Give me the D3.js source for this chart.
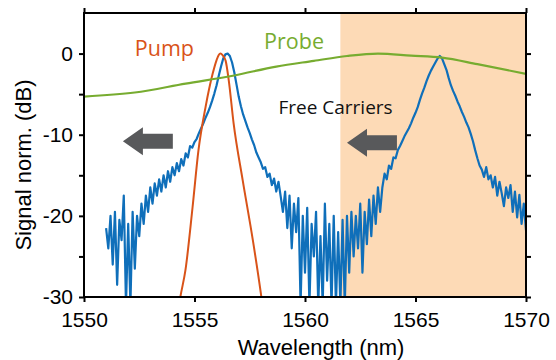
<!DOCTYPE html>
<html>
<head>
<meta charset="utf-8">
<script src="https://cdn.jsdelivr.net/npm/d3@7"></script>
<style>
    body { margin: 0; background: #fff; }
    svg { display: block; }
</style>
</head>
<body>
<div id="chart"></div>
<script>
// ---- Data ----
const xTicks = [1550, 1555, 1560, 1565, 1570];
const yTicks = [-30, -25, -20, -15, -10, -5, 0];

// measured trace (blue), sampled every 0.1 nm from 1551.0 nm
const traceStart = 1551.0;
const traceStep = 0.1;
const traceDb = [
    -21.5, -24.0, -20.0, -26.0, -19.5, -28.5, -20.5, -23.0, -17.5, -31,
    -21, -31, -19.5, -26.5, -20, -22.5, -18.5, -21, -17.5, -19.5,
    -16.5, -18.5, -16, -17.5, -15.5, -17, -15, -16.5, -14.5, -15.8,
    -14, -15, -13.5, -14.5, -13, -13.8, -12.3, -12.8, -11.4, -11.6,
    -10.9, -10.5, -9.8, -9.2, -8.6, -7.9, -7.3, -6.6, -5.8, -4.9,
    -3.9, -2.7, -1.6, -0.6, -0.1, 0, -0.3, -1.1, -2.3, -3.8,
    -5.3, -6.5, -7.5, -8.3, -9.1, -9.8, -10.6, -11.3, -12.2, -12.8,
    -13.4, -14.2, -14.0, -15.2, -14.8, -16.2, -15.4, -17.0, -15.8, -17.6,
    -19.5, -17.0, -21.5, -17.5, -24.0, -18.5, -22.0, -17.8, -31, -20.0,
    -27.0, -19.0, -31, -21.0, -25.0, -19.5, -31, -22.5, -31, -18.5,
    -28, -21, -31, -20.0, -31, -22, -31, -20.5, -31, -20,
    -27, -19.5, -25, -20, -24, -18.5, -27, -19.5, -23.5, -18.0,
    -22.5, -17.5, -21, -16.5, -19.5, -16.5, -14.8, -15.5, -13.8, -14.2,
    -12.8, -12.9, -11.9, -11.4, -10.8, -10.2, -9.7, -9.2, -8.6, -7.9,
    -7.3, -6.6, -5.7, -4.9, -4.2, -3.4, -2.7, -2.1, -1.6, -1.1,
    -0.6, -0.3, -0.6, -1.3, -2.0, -3.0, -3.9, -4.6, -5.2, -5.9,
    -6.5, -7.2, -7.8, -8.5, -9.1, -9.9, -10.8, -11.9, -12.9, -13.8,
    -14.3, -15.2, -14.0, -15.5, -15.0, -16.5, -15.2, -17.5, -15.8, -17.2,
    -18.8, -16.5, -17.8, -16.2, -19.5, -17.0, -20.2, -17.4, -21.0, -18.5,
    -21.8
];

// pump spectrum (red)
const pumpWl = [1554.30, 1554.36, 1554.59, 1554.91, 1555.18, 1555.50, 1555.82, 1556.00, 1556.09, 1556.18,
                1556.27, 1556.41, 1556.55, 1556.77, 1557.18, 1557.64, 1558.00, 1558.05];
const pumpDb = [-31, -30, -26.7, -19.0, -11.9, -6.6, -2.5, -0.8, -0.2, 0,
                -0.2, -0.9, -3.3, -8.6, -15.6, -23.0, -29.5, -30.5];

// probe spectrum (green)
const probeWl = [1550, 1552.3, 1554.6, 1556.8, 1558.7, 1560.4, 1561.9, 1563.3, 1564.8, 1566.2, 1567.8, 1570];
const probeDb = [-5.3, -4.8, -3.7, -2.7, -1.6, -0.9, -0.3, 0, -0.25, -0.5, -1.3, -2.5];

// free-carrier band
const bandStart = 1561.6;
const bandEnd = 1570;

// annotations (data units)
const labels = [
    { text: "Pump", wl: 1552.3, db: -0.25, color: "#D95319", size: 21.5 },
    { text: "Probe", wl: 1558.15, db: 0.6, color: "#77AC30", size: 21.5 },
    { text: "Free Carriers", wl: 1558.8, db: -7.4, color: "#111", size: 19 }
];
const arrows = [
    { tip: 1551.76, tail: 1554.02, db: -10.8 },
    { tip: 1561.9, tail: 1564.16, db: -11.0 }
];

// ---- Layout ----
const W = 556, H = 360;
const margin = { top: 13, right: 30, bottom: 63, left: 84 };
const innerWidth = W - margin.left - margin.right;
const innerHeight = H - margin.top - margin.bottom;

const svg = d3.select("#chart").append("svg")
    .attr("width", W)
    .attr("height", H);

const g = svg.append("g")
    .attr("transform", `translate(${margin.left},${margin.top})`);

const xScale = d3.scaleLinear().domain([1550, 1570]).range([0, innerWidth]);
const yScale = d3.scaleLinear().domain([-30, 5]).range([innerHeight, 0]);

g.append("clipPath").attr("id", "plot-clip")
    .append("rect")
    .attr("width", innerWidth)
    .attr("height", innerHeight);

const plot = g.append("g").attr("clip-path", "url(#plot-clip)");

// ---- Shaded band ----
plot.append("rect")
    .attr("x", xScale(bandStart))
    .attr("y", 0)
    .attr("width", xScale(bandEnd) - xScale(bandStart))
    .attr("height", innerHeight)
    .attr("fill", "#FDDAB6");

// ---- Lines ----
const traceData = traceDb.map((v, i) => [traceStart + i * traceStep, v]);
const pumpData = pumpWl.map((w, i) => [w, pumpDb[i]]);
const probeData = probeWl.map((w, i) => [w, probeDb[i]]);

const line = d3.line()
    .x(d => xScale(d[0]))
    .y(d => yScale(d[1]));

plot.append("path")
    .datum(traceData)
    .attr("d", line)
    .attr("fill", "none")
    .attr("stroke", "#0F6FBA")
    .attr("stroke-width", 2.2)
    .attr("stroke-linejoin", "round");

plot.append("path")
    .datum(pumpData)
    .attr("d", line.curve(d3.curveMonotoneX))
    .attr("fill", "none")
    .attr("stroke", "#D95319")
    .attr("stroke-width", 2);

plot.append("path")
    .datum(probeData)
    .attr("d", line.curve(d3.curveMonotoneX))
    .attr("fill", "none")
    .attr("stroke", "#77AC30")
    .attr("stroke-width", 2.2);

// ---- Arrows ----
plot.selectAll(".arrow")
    .data(arrows)
    .join("path")
    .attr("class", "arrow")
    .attr("fill", "#58595B")
    .attr("d", d => {
        const x0 = xScale(d.tip), x1 = xScale(d.tail), y = yScale(d.db);
        const head = 20, bodyH = 7.5, headH = 14;
        return `M${x0},${y} L${x0 + head},${y - headH} L${x0 + head},${y - bodyH} L${x1},${y - bodyH}` +
               ` L${x1},${y + bodyH} L${x0 + head},${y + bodyH} L${x0 + head},${y + headH} Z`;
    });

// ---- Text labels ----
g.selectAll(".label")
    .data(labels)
    .join("text")
    .attr("class", "label")
    .attr("x", d => xScale(d.wl))
    .attr("y", d => yScale(d.db))
    .attr("fill", d => d.color)
    .attr("font-family", "'Open Sans', sans-serif")
    .attr("font-size", d => d.size)
    .text(d => d.text);

// ---- Axes ----
const tickFont = "'Liberation Sans', Arial, Helvetica, sans-serif";

function styleAxis(sel) {
    sel.select(".domain").remove();
    sel.selectAll(".tick line").attr("stroke", "#000").attr("stroke-width", 2);
    sel.selectAll(".tick text")
        .attr("fill", "#000")
        .attr("font-family", tickFont)
        .attr("font-size", 21);
}

g.append("g")
    .attr("class", "x-axis")
    .attr("transform", `translate(0,${innerHeight})`)
    .call(d3.axisBottom(xScale).tickValues(xTicks).tickSize(5).tickPadding(10).tickFormat(d3.format("d")))
    .call(styleAxis);

g.append("g")
    .call(d3.axisTop(xScale).tickValues(xTicks).tickSize(5).tickFormat(""))
    .call(styleAxis);

g.append("g")
    .attr("class", "y-axis")
    .call(d3.axisLeft(yScale).tickValues(yTicks).tickSize(5).tickPadding(6)
        .tickFormat(d => d % 10 === 0 ? String(d) : ""))
    .call(styleAxis);

g.append("g")
    .attr("transform", `translate(${innerWidth},0)`)
    .call(d3.axisRight(yScale).tickValues(yTicks).tickSize(5).tickFormat(""))
    .call(styleAxis);

// ---- Frame ----
g.append("rect")
    .attr("width", innerWidth)
    .attr("height", innerHeight)
    .attr("fill", "none")
    .attr("stroke", "#000")
    .attr("stroke-width", 2);

// ---- Axis titles ----
svg.append("text")
    .attr("x", 321)
    .attr("y", 355)
    .attr("text-anchor", "middle")
    .attr("font-family", tickFont)
    .attr("font-size", 22)
    .text("Wavelength (nm)");

svg.append("text")
    .attr("transform", "translate(31,165) rotate(-90)")
    .attr("text-anchor", "middle")
    .attr("font-family", tickFont)
    .attr("font-size", 22)
    .text("Signal norm. (dB)");
</script>
</body>
</html>
